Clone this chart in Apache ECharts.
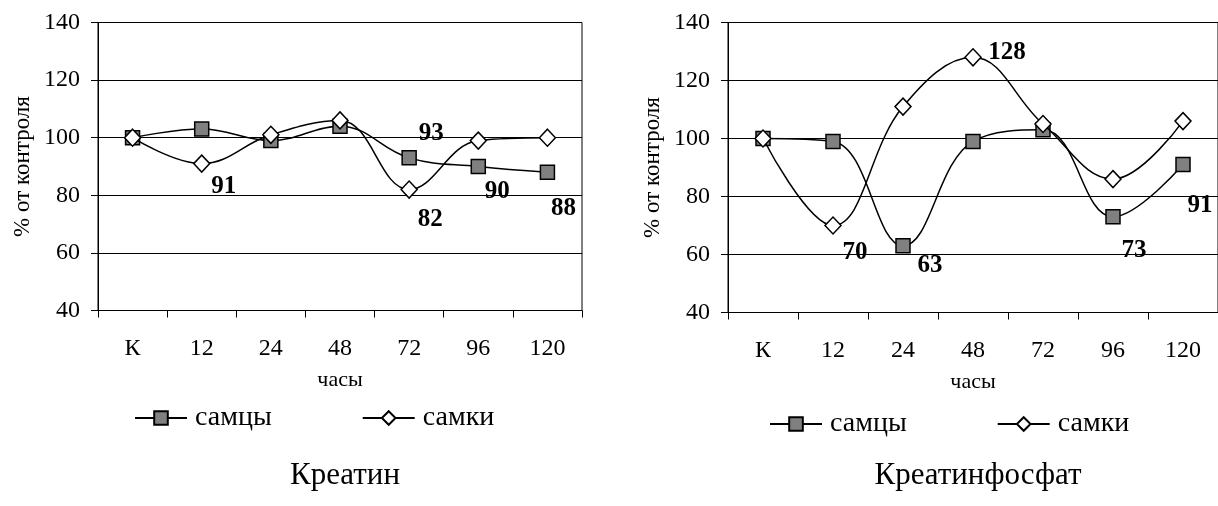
<!DOCTYPE html>
<html>
<head>
<meta charset="utf-8">
<script src="https://cdn.jsdelivr.net/npm/echarts@6/dist/echarts.min.js"></script>
<style>
  html, body { margin: 0; padding: 0; background: #fff; }
  #chart { width: 1218px; height: 506px; }
</style>
</head>
<body>
<div id="chart"></div>
<script>
// Time points (hours after treatment, К = control)
const hours = ['К', '12', '24', '48', '72', '96', '120'];
const seriesNames = ['самцы', 'самки'];

// Креатин, % of control
const creatineMales   = [100, 103, 99, 104, 93, 90, 88];
const creatineFemales = [100, 91, 101, 106, 82, 99, 100];

// Креатинфосфат, % of control
const phosphateMales   = [100, 99, 63, 99, 103, 73, 91];
const phosphateFemales = [100, 70, 111, 128, 105, 86, 106];

const yMin = 40, yMax = 140, yStep = 20;
const panelTitles = ['Креатин', 'Креатинфосфат'];
const xAxisTitle = 'часы';
const yAxisTitle = '% от контроля';

// Points that carry a value label, with the label's shift from the marker centre
const labelShifts = [
  { males: { 4: [22, -24], 5: [19, 25], 6: [16, 36] },
    females: { 1: [22, 23], 4: [21, 30] } },
  { males: { 2: [27, 20], 5: [21, 34], 6: [17, 41] },
    females: { 1: [22, 27], 3: [34, -5] } }
];

const FONT = 'Liberation Serif, Times New Roman, serif';

const grids = [
  { left: 98, top: 22.5, width: 484, height: 288 },
  { left: 728, top: 22.5, width: 490, height: 290 }
];

function buildSeries(name, values, shifts, idx, male) {
  return {
    type: 'line',
    name: name,
    xAxisIndex: idx,
    yAxisIndex: idx,
    smooth: 0.4,
    symbol: male ? 'rect' : 'diamond',
    symbolSize: male ? 14 : [16, 17],
    lineStyle: { color: '#000', width: 1.5 },
    itemStyle: { color: male ? '#808080' : '#fff', borderColor: '#000', borderWidth: 1.5 },
    label: { show: false, formatter: '{c}', fontFamily: FONT, fontWeight: 'bold', fontSize: 25, color: '#000' },
    emphasis: { disabled: true },
    z: male ? 2 : 3,
    data: values.map((v, i) => shifts[i]
      ? { value: v, label: { show: true, position: 'inside', offset: shifts[i] } }
      : v)
  };
}

function xAxis(idx) {
  return {
    type: 'category',
    gridIndex: idx,
    data: hours,
    boundaryGap: true,
    axisLine: { lineStyle: { color: '#000', width: 1 } },
    axisTick: { show: true, length: 7, lineStyle: { color: '#000' } },
    axisLabel: { fontFamily: FONT, fontSize: 24, color: '#000', margin: 26 },
    name: xAxisTitle,
    nameLocation: 'middle',
    nameGap: 59,
    nameTextStyle: { fontFamily: FONT, fontSize: 22, color: '#000' }
  };
}

function yAxis(idx) {
  return {
    type: 'value',
    gridIndex: idx,
    min: yMin, max: yMax, interval: yStep,
    axisLine: { show: true, lineStyle: { color: '#000', width: 1 } },
    axisTick: { show: true, length: 7, lineStyle: { color: '#000' } },
    axisLabel: { fontFamily: FONT, fontSize: 24, color: '#000', margin: 18 },
    splitLine: { show: true, lineStyle: { color: '#000', width: 1 } },
    name: yAxisTitle,
    nameLocation: 'middle',
    nameGap: 64,
    nameTextStyle: { fontFamily: FONT, fontSize: 23, color: '#000' }
  };
}

function legend(left, top) {
  return {
    data: seriesNames,
    left: left, top: top,
    orient: 'horizontal',
    itemWidth: 52, itemHeight: 17, itemGap: 90,
    selectedMode: false,
    textStyle: { fontFamily: FONT, fontSize: 28, color: '#000', padding: [0, 0, 0, 3] }
  };
}

const chart = echarts.init(document.getElementById('chart'), null, { renderer: 'canvas' });
chart.setOption({
  animation: false,
  backgroundColor: '#fff',
  grid: grids.map(g => Object.assign({ show: true, borderColor: '#000', borderWidth: 1, backgroundColor: 'transparent' }, g)),
  xAxis: [xAxis(0), xAxis(1)],
  yAxis: [yAxis(0), yAxis(1)],
  legend: [legend(129, 399), legend(764, 405)],
  title: [
    { text: panelTitles[0], left: 340, top: 455, textAlign: 'center',
      textStyle: { fontFamily: FONT, fontSize: 31, fontWeight: 'normal', color: '#000' } },
    { text: panelTitles[1], left: 973, top: 455, textAlign: 'center',
      textStyle: { fontFamily: FONT, fontSize: 31, fontWeight: 'normal', color: '#000' } }
  ],
  series: [
    buildSeries(seriesNames[0], creatineMales, labelShifts[0].males, 0, true),
    buildSeries(seriesNames[1], creatineFemales, labelShifts[0].females, 0, false),
    buildSeries(seriesNames[0], phosphateMales, labelShifts[1].males, 1, true),
    buildSeries(seriesNames[1], phosphateFemales, labelShifts[1].females, 1, false)
  ]
});
</script>
</body>
</html>
